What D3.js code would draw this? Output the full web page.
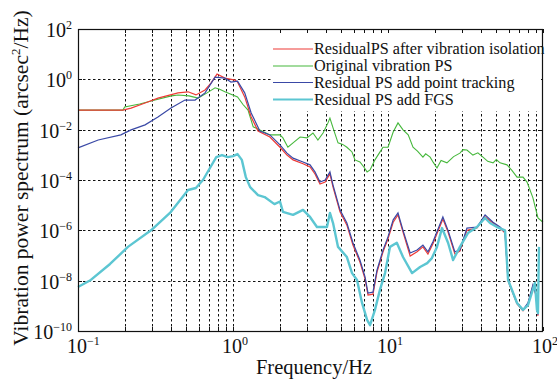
<!DOCTYPE html>
<html><head><meta charset="utf-8">
<script src="https://cdn.jsdelivr.net/npm/d3@7"></script>
<style>
body{margin:0;background:#fff}
svg{display:block}
text{font-family:"Liberation Serif","Times New Roman",serif;fill:#111}
</style>
</head><body>
<svg id="c" width="557" height="379"></svg>
<script>
// ---- data (frequency Hz, power spectrum arcsec^2/Hz) ----
const xTicks = [0.1, 1, 10, 100];
const xTickExp = ["\u22121", "0", "1", "2"];
const yTicks = [1e2, 1e0, 1e-2, 1e-4, 1e-6, 1e-8, 1e-10];
const yTickExp = ["2", "0", "\u22122", "\u22124", "\u22126", "\u22128", "\u221210"];
const seriesNames = ["ResidualPS after vibration isolation", "Original vibration PS", "Residual PS add point tracking", "Residual PS add FGS"];
const seriesColors = ["#ee3a36", "#46b83c", "#3a49a6", "#5cc6d2"];

const originalPS = [
 [0.1,0.060],[0.195,0.060],[0.2,0.079],[0.25,0.105],[0.314,0.15],[0.4,0.22],[0.442,0.24],[0.52,0.22],[0.595,0.18],[0.68,0.29],[0.766,0.46],[0.82,0.40],[0.887,0.32],[1.07,0.20],[1.16,0.10],[1.25,0.060],[1.35,0.013],[1.49,9.8e-3],[1.73,6.2e-3],[2.01,6.2e-3],[2.10,4.7e-3],[2.26,2.0e-3],[2.44,3.0e-3],[2.71,5.1e-3],[3.0,4.7e-3],[3.28,7.4e-3],[3.53,3.9e-3],[3.81,7.4e-3],[4.10,0.0186],[4.22,0.029],[4.42,0.0117],[4.76,3.0e-3],[5.1,2.6e-3],[5.43,2.0e-3],[5.86,1.3e-3],[6.12,6.3e-4],[6.59,5.2e-4],[7.0,3.2e-4],[7.33,2.1e-4],[7.66,2.5e-4],[8.24,6.3e-4],[8.8,1.2e-3],[9.29,2.0e-3],[10,2.0e-3],[10.8,8.1e-3],[11.6,0.0186],[12.5,9.8e-3],[13.5,6.2e-3],[14.5,2.0e-3],[15.5,1.4e-3],[16.8,8.1e-4],[17.5,1.1e-3],[18.7,8.1e-4],[19.6,5.0e-4],[20.7,3.0e-4],[22.0,6.0e-4],[24.0,4.8e-4],[26.5,8.5e-4],[29.1,1.17e-3],[30.5,1.6e-3],[32.3,1.55e-3],[35.3,9.8e-4],[38.0,1.2e-3],[41.0,8.1e-4],[44.0,5.5e-4],[47.6,4.8e-4],[50.0,6.5e-4],[52.8,4.8e-4],[58.6,4.0e-4],[63.0,2.4e-4],[68.0,1.3e-4],[74.3,1.3e-4],[78.9,8.3e-5],[86.1,1.95e-5],[92.8,3.1e-6],[100,2.1e-6]
];

const residualIsolation = [
 [0.1,0.060],[0.195,0.060],[0.22,0.072],[0.271,0.115],[0.328,0.18],[0.442,0.29],[0.513,0.32],[0.577,0.24],[0.66,0.38],[0.721,0.71],[0.789,1.62],[0.887,1.12],[1.03,0.93],[1.07,0.78],[1.19,0.20],[1.31,0.032],[1.45,8.9e-3],[1.73,5.1e-3],[2.01,2.0e-3],[2.23,9.8e-4],[2.44,6.3e-4],[2.83,4.4e-4],[3.14,3.3e-4],[3.38,1.74e-4],[3.64,6.9e-5],[3.93,8.3e-5],[4.22,1.74e-4],[4.42,5.2e-5],[4.90,5.4e-6],[5.43,1.6e-6],[5.94,2.6e-7],[6.59,5.5e-8],[7.11,1.17e-8],[7.43,2.7e-9],[8.0,2.9e-9],[8.49,2.2e-8],[9.29,1.4e-7],[10,4.6e-7],[10.8,2.1e-6],[11.6,4.1e-6],[12.5,8.5e-7],[13.9,9.5e-8],[15.4,1.4e-7],[16.8,2.2e-7],[18.1,1.15e-7],[19.5,2.9e-7],[22.6,2.8e-6],[24.4,8.5e-7],[27.0,1.15e-7],[29.1,1.5e-7],[32.3,1.0e-6],[37.5,1.23e-6],[42.3,3.4e-6],[47.6,1.95e-6],[52.8,1.23e-6],[56.9,7.8e-7],[59.5,9.8e-9],[68,1.2e-9],[74.3,6.3e-10],[80,1.2e-9],[86.1,6.2e-9],[91.4,2.0e-9],[92.8,4.0e-10]
];

const residualTracking = [
 [0.1,1.9e-3],[0.135,3.9e-3],[0.189,6.2e-3],[0.22,9.8e-3],[0.271,0.0155],[0.328,0.032],[0.398,0.072],[0.49,0.15],[0.569,0.15],[0.66,0.29],[0.766,1.23],[0.887,1.12],[0.97,0.78],[1.07,0.85],[1.19,0.29],[1.31,0.046],[1.49,8.9e-3],[1.73,6.2e-3],[2.01,2.5e-3],[2.23,1.17e-3],[2.44,7.4e-4],[2.83,5.2e-4],[3.14,4.0e-4],[3.38,2.1e-4],[3.64,8.3e-5],[3.93,1.0e-4],[4.22,2.1e-4],[4.42,6.3e-5],[4.90,6.5e-6],[5.43,1.95e-6],[5.94,3.2e-7],[6.59,6.6e-8],[7.11,1.4e-8],[7.43,3.2e-9],[8.0,3.5e-9],[8.49,2.6e-8],[9.29,1.66e-7],[10,5.5e-7],[10.8,2.6e-6],[11.6,4.9e-6],[12.5,1.0e-6],[13.9,1.26e-7],[15.4,1.66e-7],[16.8,2.6e-7],[18.1,1.4e-7],[19.5,3.5e-7],[22.6,3.4e-6],[24.4,1.0e-6],[27.0,1.4e-7],[29.1,1.66e-7],[32.3,1.23e-6],[37.5,1.35e-6],[42.3,4.1e-6],[47.6,2.1e-6],[52.8,1.35e-6],[56.9,8.5e-7],[59.5,1.07e-8],[68,1.3e-9],[74.3,6.9e-10],[80,1.3e-9],[86.1,6.8e-9],[91.4,2.2e-9],[92.8,4.4e-10]
];

const residualFGS = [
 [0.1,5.6e-9],[0.121,1.07e-8],[0.161,4.6e-8],[0.21,2.2e-7],[0.296,1.0e-6],[0.392,4.9e-6],[0.513,4.0e-5],[0.576,4.8e-5],[0.64,1.0e-4],[0.71,3.0e-4],[0.78,8.1e-4],[0.849,9.8e-4],[0.925,8.1e-4],[1.0,8.9e-4],[1.07,1.07e-3],[1.14,6.3e-4],[1.21,1.3e-4],[1.29,5.2e-5],[1.45,2.5e-5],[1.60,2.1e-5],[1.85,1.1e-5],[2.01,1.4e-5],[2.10,5.4e-6],[2.44,4.1e-6],[2.83,6.5e-6],[3.14,3.4e-6],[3.48,1.35e-6],[4.04,1.35e-6],[4.22,4.9e-6],[4.42,1.95e-6],[4.76,2.2e-7],[5.43,8.7e-8],[5.86,2.0e-8],[6.31,1.07e-8],[6.80,1.3e-9],[7.33,2.75e-10],[7.66,1.7e-10],[8.24,6.9e-10],[8.87,4.3e-9],[9.57,2.0e-8],[10.3,2.2e-7],[11.4,3.2e-7],[12.5,8.7e-8],[14.3,2.0e-8],[16.1,3.5e-8],[17.9,5.0e-8],[19.2,7.9e-8],[20.7,2.2e-7],[22.3,1.23e-6],[24.4,3.2e-7],[26.3,6.6e-8],[29.1,2.2e-7],[32.8,7.8e-7],[37.5,1.35e-6],[42.3,3.1e-6],[45.5,1.95e-6],[50.5,1.35e-6],[56.9,1.0e-6],[59.5,1.07e-8],[68,1.3e-9],[74.3,6.9e-10],[80,1.07e-9],[88.7,8.1e-9],[91.4,6.9e-10],[92.8,5.2e-10],[94.2,2.2e-7]
];

// ---- layout ----
const L = 78, R = 543, T = 29, B = 331;
const svg = d3.select("#c");
const x = d3.scaleLog().domain([0.1, 100]).range([L, R]);
const y = d3.scaleLog().domain([1e-10, 1e2]).range([B, T]);

// minor x positions
const xMinor = [];
[0.1, 1, 10].forEach(d => { for (let k = 1; k <= 9; k++) xMinor.push(d * k); });
xMinor.push(100);

// grid
const grid = svg.append("g").attr("stroke", "#111").attr("stroke-width", 1).attr("stroke-dasharray", "2.5,2.5");
grid.selectAll("line.v").data(xMinor.filter(d => d > 0.1 && d < 100)).enter().append("line")
  .attr("x1", d => Math.round(x(d)) + 0.5).attr("x2", d => Math.round(x(d)) + 0.5).attr("y1", T).attr("y2", B);
grid.selectAll("line.h").data(yTicks.filter(d => d > 1e-10 && d < 1e2)).enter().append("line")
  .attr("y1", d => Math.round(y(d)) + 0.5).attr("y2", d => Math.round(y(d)) + 0.5).attr("x1", L).attr("x2", R);

// ticks (inward, all sides)
const tk = svg.append("g").attr("stroke", "#111").attr("stroke-width", 1);
xMinor.forEach(d => {
  const px = Math.round(x(d)) + 0.5;
  tk.append("line").attr("x1", px).attr("x2", px).attr("y1", T).attr("y2", T + 4);
  tk.append("line").attr("x1", px).attr("x2", px).attr("y1", B).attr("y2", B - 4);
});
yTicks.forEach(d => {
  const py = Math.round(y(d)) + 0.5;
  tk.append("line").attr("x1", L).attr("x2", L + 4).attr("y1", py).attr("y2", py);
  tk.append("line").attr("x1", R).attr("x2", R - 4).attr("y1", py).attr("y2", py);
});

// series
const line = d3.line().x(d => x(d[0])).y(d => y(d[1]));
const plot = svg.append("g");
plot.append("path").datum(originalPS).attr("d", line).attr("fill", "none").attr("stroke", seriesColors[1]).attr("stroke-width", 1.1);
plot.append("path").datum(residualIsolation).attr("d", line).attr("fill", "none").attr("stroke", seriesColors[0]).attr("stroke-width", 1.2);
plot.append("path").datum(residualTracking).attr("d", line).attr("fill", "none").attr("stroke", seriesColors[2]).attr("stroke-width", 1.2);
plot.append("path").datum(residualFGS).attr("d", line).attr("fill", "none").attr("stroke", seriesColors[3]).attr("stroke-width", 2.4).attr("stroke-linejoin", "round");

// legend
const lg = svg.append("g");
lg.append("rect").attr("x", 271).attr("y", 34).attr("width", 270).attr("height", 77).attr("fill", "#fff");
const rowsY = [49, 66, 82.5, 99.5];
seriesNames.forEach((n, i) => {
  lg.append("line").attr("x1", 273).attr("x2", 313).attr("y1", rowsY[i]).attr("y2", rowsY[i])
    .attr("stroke", seriesColors[i]).attr("stroke-width", i === 3 ? 2 : 1.2);
  lg.append("text").attr("x", 314).attr("y", rowsY[i] + 5).attr("font-size", 16.2).text(n);
});

// frame
svg.append("rect").attr("x", L + 0.5).attr("y", T + 0.5).attr("width", R - L - 1).attr("height", B - T)
  .attr("fill", "none").attr("stroke", "#111").attr("stroke-width", 1.2);

// y tick labels
yTicks.forEach((d, i) => {
  const t = svg.append("text").attr("x", 72).attr("y", y(d) + 8).attr("text-anchor", "end").attr("font-size", 20);
  t.append("tspan").text("10");
  t.append("tspan").attr("font-size", 12).attr("dy", -8).text(yTickExp[i]);
});
// x tick labels
xTicks.forEach((d, i) => {
  const t = svg.append("text").attr("x", x(d) - 11).attr("y", 353).attr("font-size", 20);
  t.append("tspan").text("10");
  t.append("tspan").attr("font-size", 12).attr("dy", -8).text(xTickExp[i]);
});

// axis titles
svg.append("text").attr("x", 314).attr("y", 373.5).attr("text-anchor", "middle").attr("font-size", 20.5).text("Frequency/Hz");
const yt = svg.append("text").attr("transform", "translate(28,178) rotate(-90)").attr("text-anchor", "middle").attr("font-size", 21.5);
yt.append("tspan").text("Vibration power spectrum (arcsec");
yt.append("tspan").attr("font-size", 13).attr("dy", -8).text("2");
yt.append("tspan").attr("dy", 8).text("/Hz)");
</script>
</body></html>
